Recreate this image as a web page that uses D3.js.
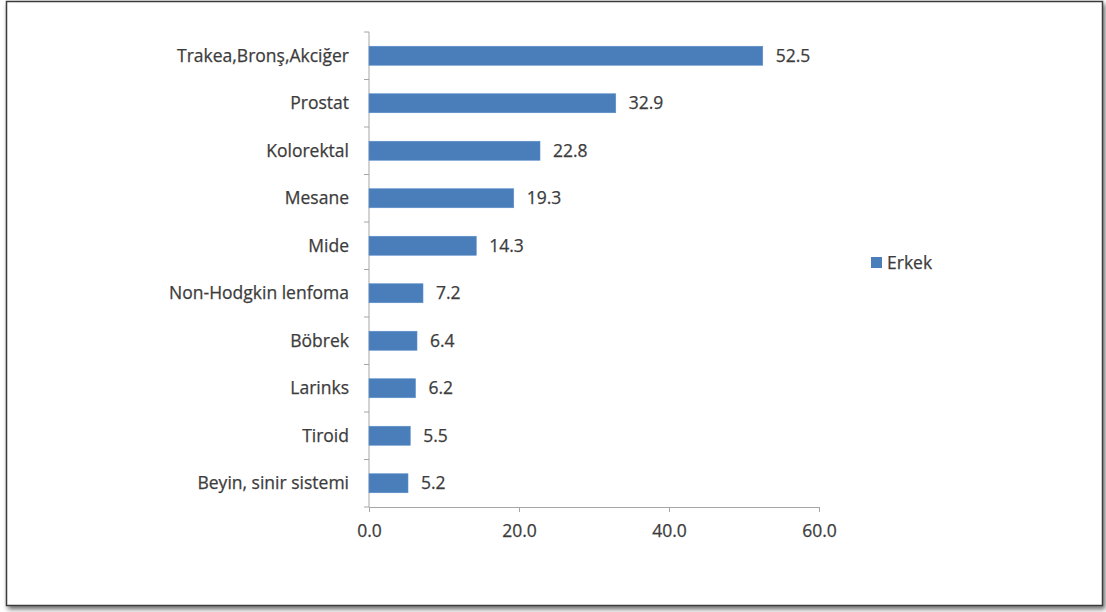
<!DOCTYPE html>
<html>
<head>
<meta charset="utf-8">
<script src="https://cdn.jsdelivr.net/npm/d3@7"></script>
<style>
  html, body { margin: 0; padding: 0; background: #ffffff; }
  svg { display: block; }
</style>
</head>
<body>
<div id="chart"></div>
<script>
// Data
const categories = [
  "Trakea,Bronş,Akciğer", "Prostat", "Kolorektal", "Mesane", "Mide",
  "Non-Hodgkin lenfoma", "Böbrek", "Larinks", "Tiroid", "Beyin, sinir sistemi"
];
const values = [52.5, 32.9, 22.8, 19.3, 14.3, 7.2, 6.4, 6.2, 5.5, 5.2];
const xTicks = [0, 20, 40, 60];
const seriesName = "Erkek";

// Constants
const width = 1106;
const height = 612;
const BAR_COLOR = "#4a7ebb";
const TEXT_COLOR = "#3c3c3c";
const AXIS_COLOR = "#a6a6a6";
const FONT = "'Open Sans', Lato, sans-serif";
const FONT_SIZE = "17.5px";

const data = categories.map((c, i) => ({ name: c, value: values[i] }));

const svg = d3.select("#chart")
  .append("svg")
  .attr("width", width)
  .attr("height", height);

// Frame with shadow
const defs = svg.append("defs");
const shadow = defs.append("filter").attr("id", "shadow")
  .attr("x", "-5%").attr("y", "-5%").attr("width", "110%").attr("height", "110%");
shadow.append("feGaussianBlur").attr("in", "SourceAlpha").attr("stdDeviation", 2.5);
shadow.append("feOffset").attr("dx", 2).attr("dy", 3).attr("result", "blur");
shadow.append("feComponentTransfer").append("feFuncA").attr("type", "linear").attr("slope", 0.6);
const merge = shadow.append("feMerge");
merge.append("feMergeNode");
merge.append("feMergeNode").attr("in", "SourceGraphic");

svg.append("rect")
  .attr("x", 6.5).attr("y", 1.5)
  .attr("width", 1096).attr("height", 604)
  .attr("fill", "#ffffff")
  .attr("stroke", "#3a3a3a")
  .attr("stroke-width", 1.5)
  .attr("filter", "url(#shadow)");

// Scales
const x = d3.scaleLinear().domain([0, 60]).range([369, 819]);
const y = d3.scaleBand().domain(categories).range([32, 507]).paddingInner(0.6).paddingOuter(0.3);

// small helper for the text style used everywhere
const styleText = sel => sel
  .attr("fill", TEXT_COLOR)
  .attr("stroke", TEXT_COLOR)
  .attr("stroke-width", 0.25)
  .attr("font-family", FONT)
  .attr("font-size", FONT_SIZE);

// X axis
const xAxis = svg.append("g")
  .attr("transform", `translate(0, ${507})`)
  .call(d3.axisBottom(x).tickValues(xTicks).tickFormat(d3.format(".1f")).tickSize(5).tickPadding(13).tickSizeOuter(0));
xAxis.select(".domain").attr("stroke", AXIS_COLOR);
xAxis.selectAll(".tick line").attr("stroke", AXIS_COLOR);
xAxis.selectAll(".tick text").call(styleText);

// Y axis: ticks between categories
const yAxisG = svg.append("g");
const step = y.step();
const boundaries = d3.range(categories.length + 1).map(i => 32 + i * step);
yAxisG.append("line")
  .attr("x1", x(0)).attr("x2", x(0))
  .attr("y1", 32).attr("y2", 507)
  .attr("stroke", AXIS_COLOR);
yAxisG.selectAll(".ytick")
  .data(boundaries)
  .join("line")
  .attr("class", "ytick")
  .attr("x1", x(0) - 5).attr("x2", x(0))
  .attr("y1", d => d).attr("y2", d => d)
  .attr("stroke", AXIS_COLOR);

// Category labels
svg.append("g")
  .selectAll("text")
  .data(data)
  .join("text")
  .attr("x", 349)
  .attr("y", d => y(d.name) + y.bandwidth() / 2)
  .attr("dy", "0.35em")
  .attr("text-anchor", "end")
  .call(styleText)
  .text(d => d.name);

// Bars
svg.append("g")
  .selectAll("rect")
  .data(data)
  .join("rect")
  .attr("x", x(0))
  .attr("y", d => y(d.name))
  .attr("width", d => x(d.value) - x(0))
  .attr("height", y.bandwidth())
  .attr("fill", BAR_COLOR)
  .attr("stroke", "#5b8fcb")
  .attr("stroke-width", 0.6);

// Value labels
svg.append("g")
  .selectAll("text")
  .data(data)
  .join("text")
  .attr("x", d => x(d.value) + 13)
  .attr("y", d => y(d.name) + y.bandwidth() / 2)
  .attr("dy", "0.35em")
  .call(styleText)
  .text(d => d.value.toFixed(1));

// Legend
const legend = svg.append("g").attr("transform", "translate(871, 257)");
legend.append("rect")
  .attr("width", 11).attr("height", 11)
  .attr("fill", BAR_COLOR);
legend.append("text")
  .attr("x", 16).attr("y", 6)
  .attr("dy", "0.35em")
  .call(styleText)
  .text(seriesName);
</script>
</body>
</html>
